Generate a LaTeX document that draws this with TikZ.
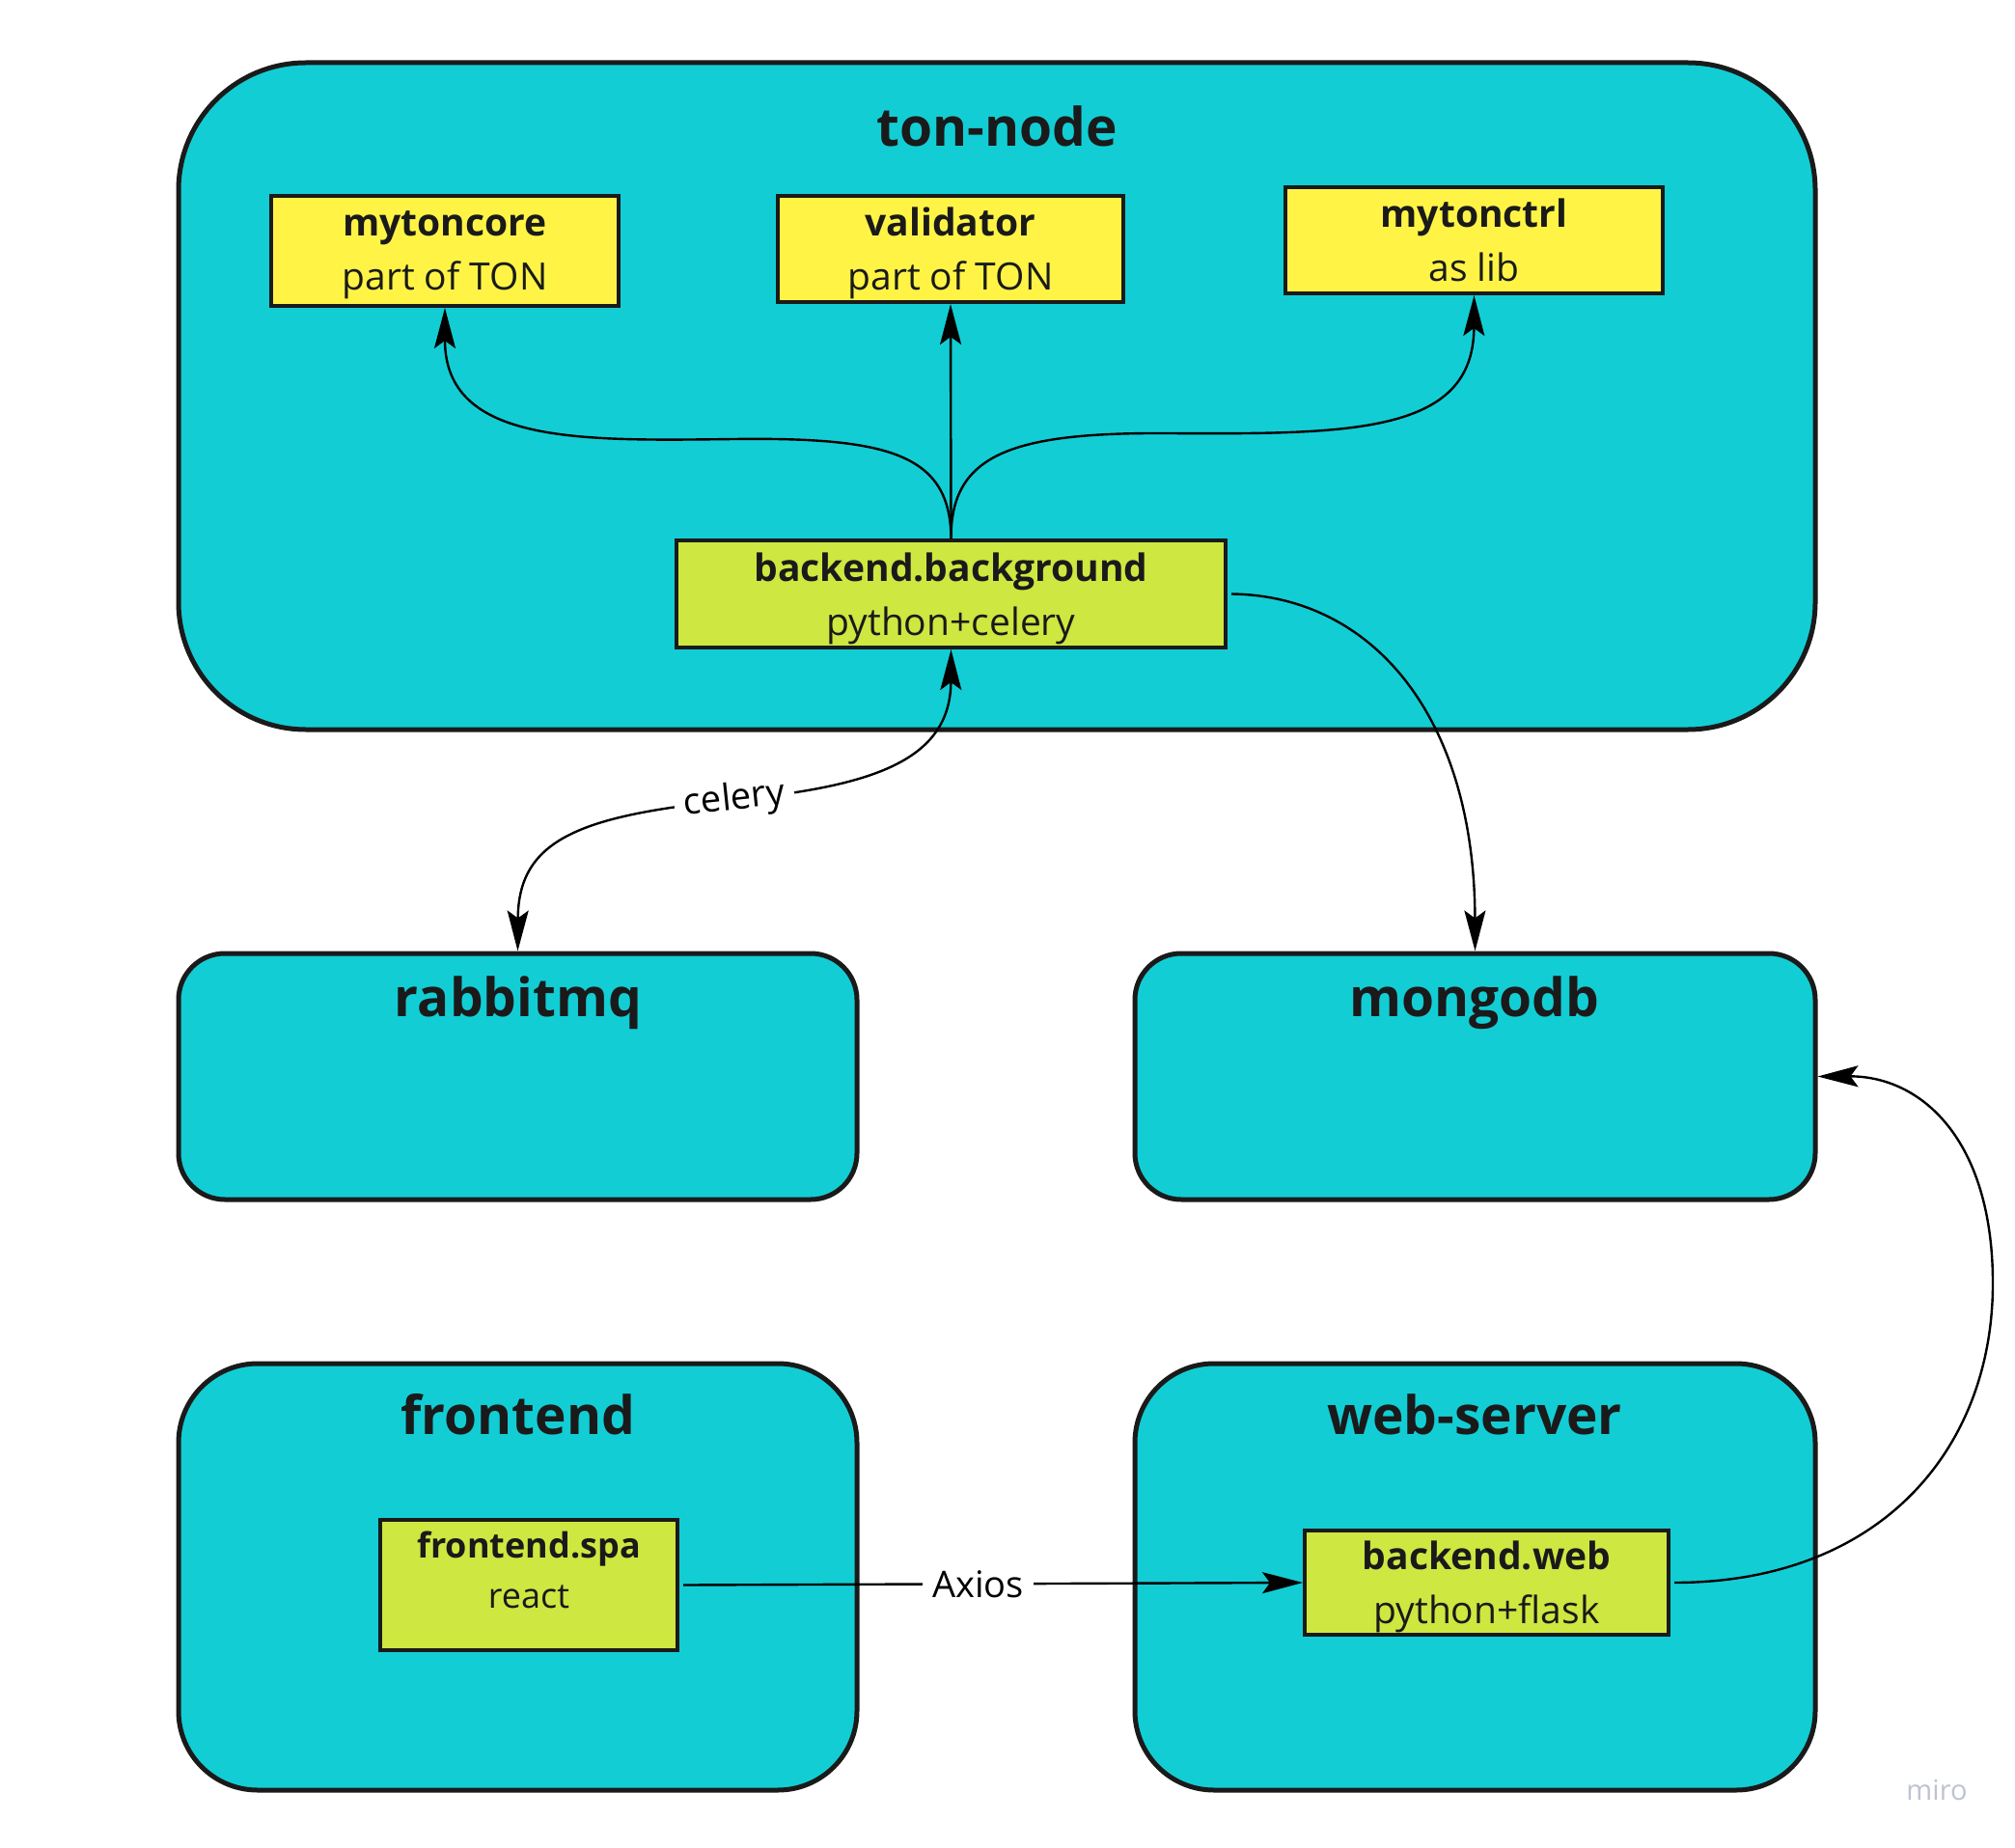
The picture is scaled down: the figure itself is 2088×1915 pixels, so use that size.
\documentclass[tikz,border=0pt]{standalone}
\usepackage{fontspec}
\setmainfont{Open Sans}
\usetikzlibrary{arrows.meta}
\definecolor{cyanfill}{HTML}{13CDD4}
\definecolor{yellowfill}{HTML}{FFF445}
\definecolor{limefill}{HTML}{CEE741}
\definecolor{edgecol}{HTML}{1A1A1A}
\definecolor{ink}{HTML}{1A1A1A}
\definecolor{mirocol}{HTML}{BEC2D2}
\tikzset{
  container/.style={draw=edgecol, line width=2.5pt, fill=cyanfill, inner sep=0pt},
  titletext/.style={font=\bfseries\fontsize{27.5}{33}\selectfont, text=ink, anchor=base, inner sep=0pt},
  comp/.style={draw=edgecol, line width=2pt, align=center, inner sep=0pt, text=ink, font=\fontsize{19.5}{28}\selectfont},
  ycomp/.style={comp, fill=yellowfill},
  gcomp/.style={comp, fill=limefill},
  conn/.style={draw=black, line width=1.2pt},
  lab/.style={fill=white, text=black, font=\fontsize{19}{23}\selectfont, inner xsep=5pt, inner ysep=2pt},
}
\begin{document}
\begin{tikzpicture}[x=0.5pt, y=-0.5pt, >={Stealth[length=21pt,width=11pt,inset=4pt]}]
\useasboundingbox (0,0) rectangle (2088,1915);
\fill[white] (0,0) rectangle (2088,1915);

% containers
\node[container, rounded corners=66pt, minimum width=848pt, minimum height=345.5pt] (tonnode) at (1033,410.5) {};
\node[container, rounded corners=24pt, minimum width=351.5pt, minimum height=127.5pt] (rabbitmq) at (536.5,1115.5) {};
\node[container, rounded corners=24pt, minimum width=352.5pt, minimum height=127.5pt] (mongodb) at (1528.5,1115.5) {};
\node[container, rounded corners=41pt, minimum width=351.5pt, minimum height=221pt] (frontend) at (536.5,1634) {};
\node[container, rounded corners=41pt, minimum width=352.5pt, minimum height=221pt] (webserver) at (1528.5,1634) {};

% titles
\node[titletext] (tontitle) at (1033,152) {ton-node};
\node[titletext] (rabbittitle) at (537,1053) {rabbitmq};
\node[titletext] (mongotitle) at (1528,1053) {mongodb};
\node[titletext] (fronttitle) at (537,1486) {frontend};
\node[titletext] (webtitle) at (1528,1486) {web-server};

% components
\node[ycomp, minimum width=180pt, minimum height=57pt] (mytoncore) at (461,260) {\textbf{mytoncore}\\\smash{part of TON}};
\node[ycomp, minimum width=179pt, minimum height=55pt] (validator) at (985,258) {\textbf{validator}\\\smash{part of TON}};
\node[ycomp, minimum width=195.5pt, minimum height=55pt] (mytonctrl) at (1527.5,249) {\textbf{mytonctrl}\\as lib};
\node[gcomp, minimum width=284.5pt, minimum height=55.5pt] (bg) at (985.5,615.5) {\textbf{backend.background}\\\smash{python+celery}};
\node[gcomp, minimum width=154pt, minimum height=67.5pt] (spa) at (548,1642.5) {};
\node[text=ink, align=center, font=\fontsize{18}{26}\selectfont, inner sep=0pt] (spatext) at (548,1627) {\textbf{frontend.spa}\\react};
\node[gcomp, minimum width=188.5pt, minimum height=54pt] (bweb) at (1540.5,1640) {\textbf{backend.web}\\\smash{python+flask}};

% connectors
\draw[conn,->] (bg.north) .. controls (985,470) and (920,453) .. (760,455) .. controls (600,457) and (461,460) .. (mytoncore.south);
\draw[conn,->] (bg.north) -- (validator.south);
\draw[conn,->] (bg.north) .. controls (985,470) and (1050,448) .. (1210,449) .. controls (1400,450) and (1527,450) .. (mytonctrl.south);
\draw[conn,->] ([xshift=2pt]bg.east) .. controls (1420,617) and (1528,740) .. (mongodb.north);
\draw[conn,<->] (bg.south) .. controls (985,790) and (900,815) .. (761,829) .. controls (600,845) and (537,870) .. (rabbitmq.north);
\node[lab, rotate=6] (celerylab) at (761,829) {celery};
\draw[conn,->] ([xshift=2pt]spa.east) -- node[lab, pos=0.476] (axioslab) {Axios} (bweb.west);
\draw[conn,->] ([xshift=2pt]bweb.east) .. controls (1950,1640) and (2065,1500) .. (2065,1330) .. controls (2065,1180) and (1990,1115) .. (mongodb.east);

% watermark
\node[text=mirocol, font=\fontsize{14.5}{17}\selectfont, inner sep=0pt] (mirologo) at (2007,1855) {miro};
\end{tikzpicture}
\end{document}
